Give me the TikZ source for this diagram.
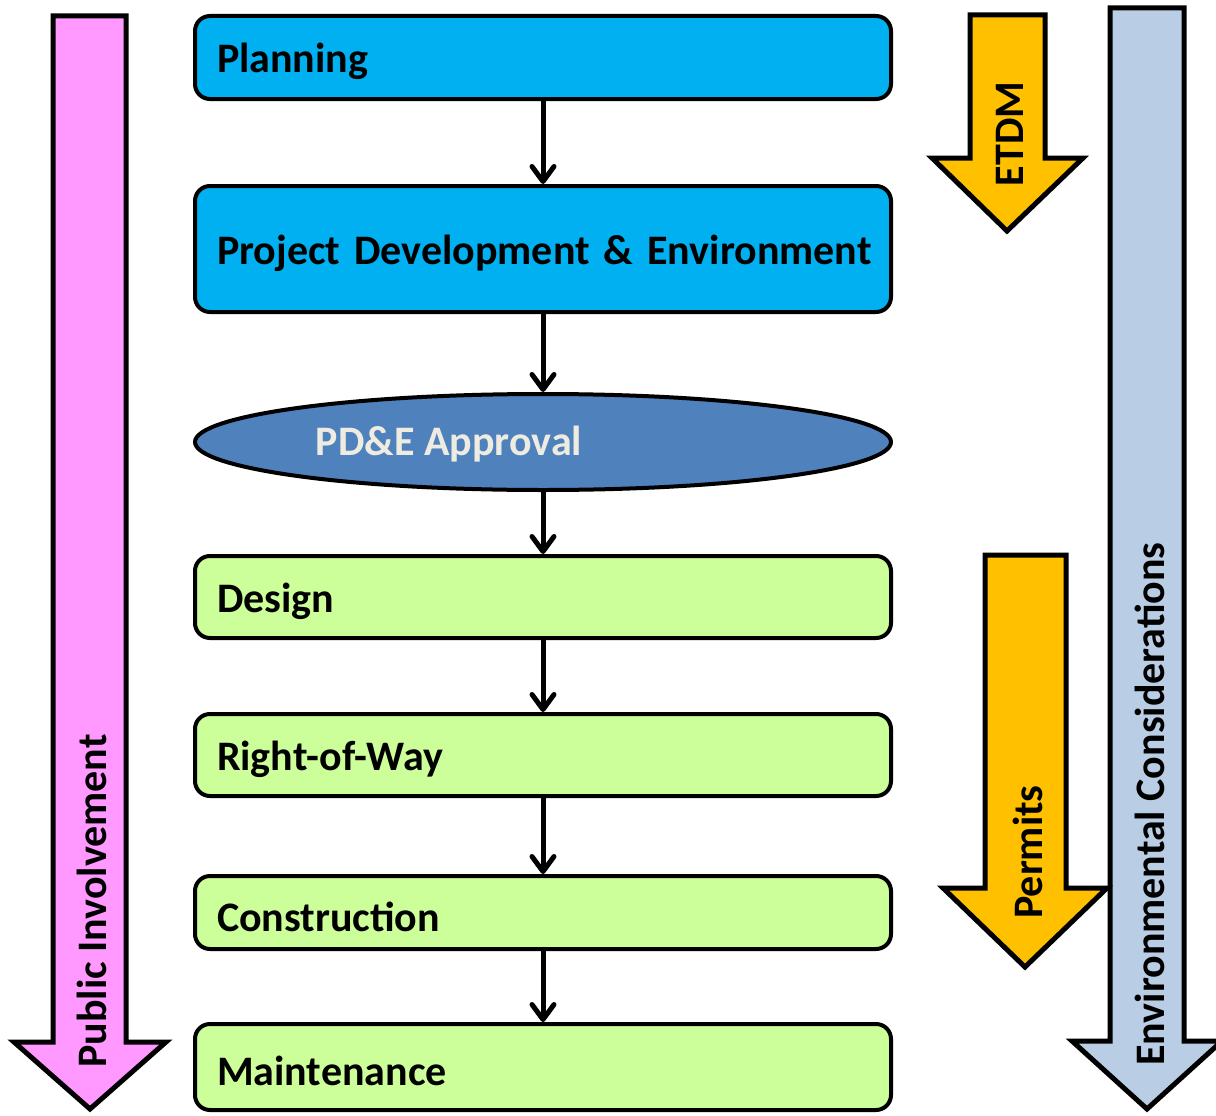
\documentclass[tikz,border=0pt]{standalone}
\usepackage{fontspec}
\setmainfont{Carlito}
\usetikzlibrary{shapes.geometric,arrows.meta}
\definecolor{pinkc}{HTML}{FF99FF}
\definecolor{orangec}{HTML}{FFC000}
\definecolor{envc}{HTML}{B9CDE5}
\definecolor{cyanc}{HTML}{00B0F0}
\definecolor{ellc}{HTML}{4F81BD}
\definecolor{greenc}{HTML}{CCFF99}
\definecolor{elltext}{HTML}{EEECE1}
\newcommand{\lowtxt}[1]{\raisebox{-4pt}[\height][\depth]{#1}}
\begin{document}
\begin{tikzpicture}[x=1pt,y=-1pt,
  bigarrow/.style={draw=black,line width=5pt,line join=miter},
  stagebox/.style={draw=black,line width=4pt,rounded corners=15pt,minimum width=696pt,
     text width=652pt,inner xsep=22pt,align=left,font=\fontsize{42}{50}\selectfont\bfseries},
  sidetext/.style={rotate=90,font=\fontsize{42}{50}\selectfont\bfseries,inner sep=0pt},
  flowarrow/.style={draw=black,line width=5pt,-{Straight Barb[length=15pt,width=22pt,round]}}]
\useasboundingbox (0,0) rectangle (1216,1116);
% big side arrows
\path[bigarrow,fill=pinkc] (53,16)--(126,16)--(126,1042)--(166,1042)--(90,1109)--(14,1042)--(53,1042)--cycle;
\path[bigarrow,fill=envc] (1110,8)--(1184,8)--(1184,1041)--(1222,1041)--(1147,1109)--(1072,1041)--(1110,1041)--cycle;
\path[bigarrow,fill=orangec] (970,15)--(1045,15)--(1045,158)--(1083,158)--(1007,231)--(932,158)--(970,158)--cycle;
\path[bigarrow,fill=orangec] (985,555)--(1066,555)--(1066,888)--(1107,888)--(1025,967)--(943,888)--(985,888)--cycle;
\node[sidetext] (pi) at (92,901) {Public Involvement};
\node[sidetext] (etdm) at (1010,134) {ETDM};
\node[sidetext] (perm) at (1028,852) {Permits};
\node[sidetext] (envt) at (1150,804) {Environmental Considerations};
% stages
\node[stagebox,fill=cyanc,minimum height=83pt] (plan) at (543,57.5) {\lowtxt{Planning}};
\node[stagebox,fill=cyanc,minimum height=126pt,align=center] (pde) at (543,249) {\lowtxt{Project Development \& Environment}};
\node[draw=black,line width=4pt,ellipse,fill=ellc,minimum width=696pt,minimum height=96pt] (appr) at (543,442) {};
\node[font=\fontsize{42}{50}\selectfont\bfseries,text=elltext] (apprt) at (449,444) {PD\&E Approval};
\node[stagebox,fill=greenc,minimum height=82pt] (des) at (543,597) {\lowtxt{Design}};
\node[stagebox,fill=greenc,minimum height=82pt] (row) at (543,755) {\lowtxt{Right-of-Way}};
\node[stagebox,fill=greenc,minimum height=73pt] (con) at (543,912.5) {\lowtxt{Construction}};
\node[stagebox,fill=greenc,minimum height=86pt] (mnt) at (543,1067) {\lowtxt{Maintenance}};
% connectors
\path[flowarrow] (plan.south) -- (pde.north);
\path[flowarrow] (pde.south) -- (appr.north);
\path[flowarrow] (appr.south) -- (des.north);
\path[flowarrow] (des.south) -- (row.north);
\path[flowarrow] (row.south) -- (con.north);
\path[flowarrow] (con.south) -- (mnt.north);
\end{tikzpicture}
\end{document}
